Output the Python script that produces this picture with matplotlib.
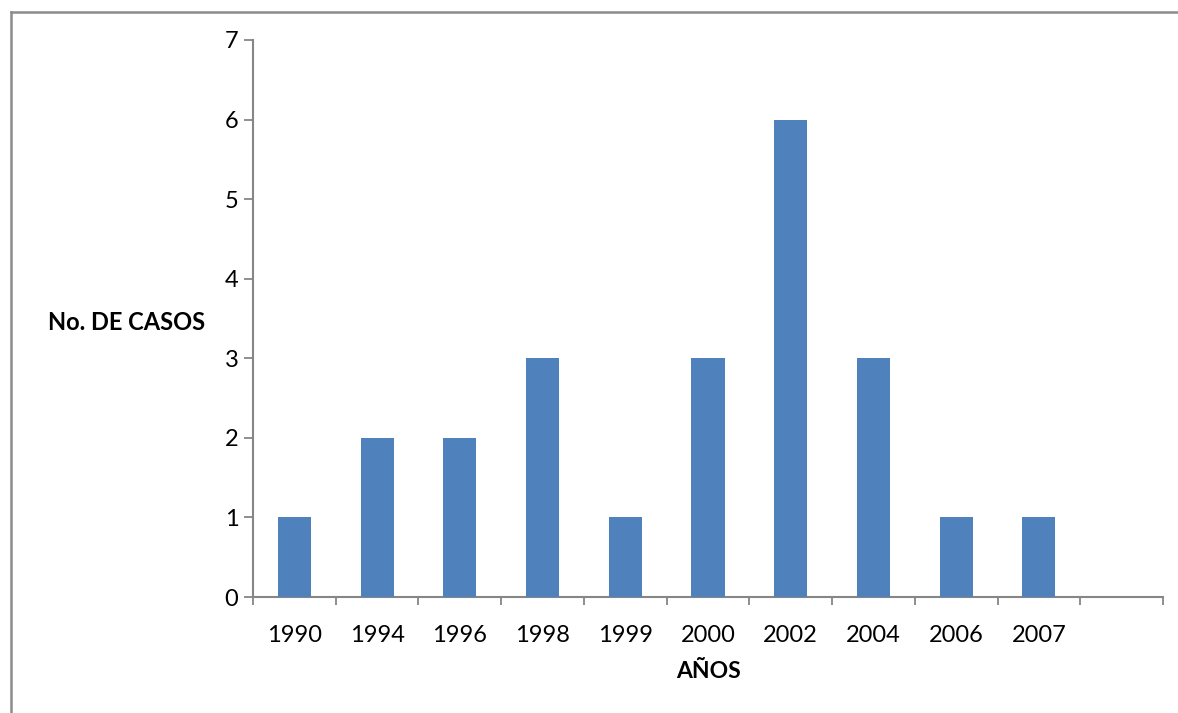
import matplotlib.pyplot as plt
from matplotlib.lines import Line2D

# casos por año
years = ['1990', '1994', '1996', '1998', '1999', '2000', '2002', '2004', '2006', '2007', '']
cases = [1, 2, 2, 3, 1, 3, 6, 3, 1, 1, 0]

plt.rcParams['font.family'] = ['Lato', 'DejaVu Sans']

fig = plt.figure(figsize=(11.78, 7.13), dpi=100)
ax = fig.add_axes([253 / 1178, 1 - 597 / 713, (1163 - 253) / 1178, (597 - 40) / 713])

pos = list(range(len(years)))
ax.bar(pos, cases, width=0.40, color='#4F81BD', zorder=3)

ax.set_xlim(-0.5, len(years) - 0.5)
ax.set_ylim(0, 7)
ax.set_yticks(range(8))
ax.set_xticks(pos)
ax.set_xticklabels(years)
ax.set_xticks([p - 0.5 for p in pos] + [len(years) - 0.5], minor=True)
ax.tick_params(axis='x', which='major', length=0, pad=20, labelsize=17)
ax.tick_params(axis='x', which='minor', length=6, width=1.3, color='#868686', direction='out')
ax.tick_params(axis='y', length=6.5, width=1.3, color='#868686', pad=4, labelsize=17)

for side in ('top', 'right'):
    ax.spines[side].set_visible(False)
for side in ('left', 'bottom'):
    ax.spines[side].set_color('#868686')
    ax.spines[side].set_linewidth(1.5)

fig.text(127 / 1178, 1 - 322 / 713, 'No. DE CASOS', fontsize=17, fontweight='bold',
         ha='center', va='center')
ax.set_xlabel('AÑOS', fontsize=16.5, fontweight='bold', labelpad=11)

# marco del gráfico
fig.add_artist(Line2D([11 / 1178, 11 / 1178], [0, 1 - 11.5 / 713], transform=fig.transFigure,
                      color='#8c8c8c', linewidth=1.8))
fig.add_artist(Line2D([11 / 1178, 1], [1 - 11.5 / 713, 1 - 11.5 / 713], transform=fig.transFigure,
                      color='#8c8c8c', linewidth=1.8))

fig.savefig('out.png', dpi=100)
